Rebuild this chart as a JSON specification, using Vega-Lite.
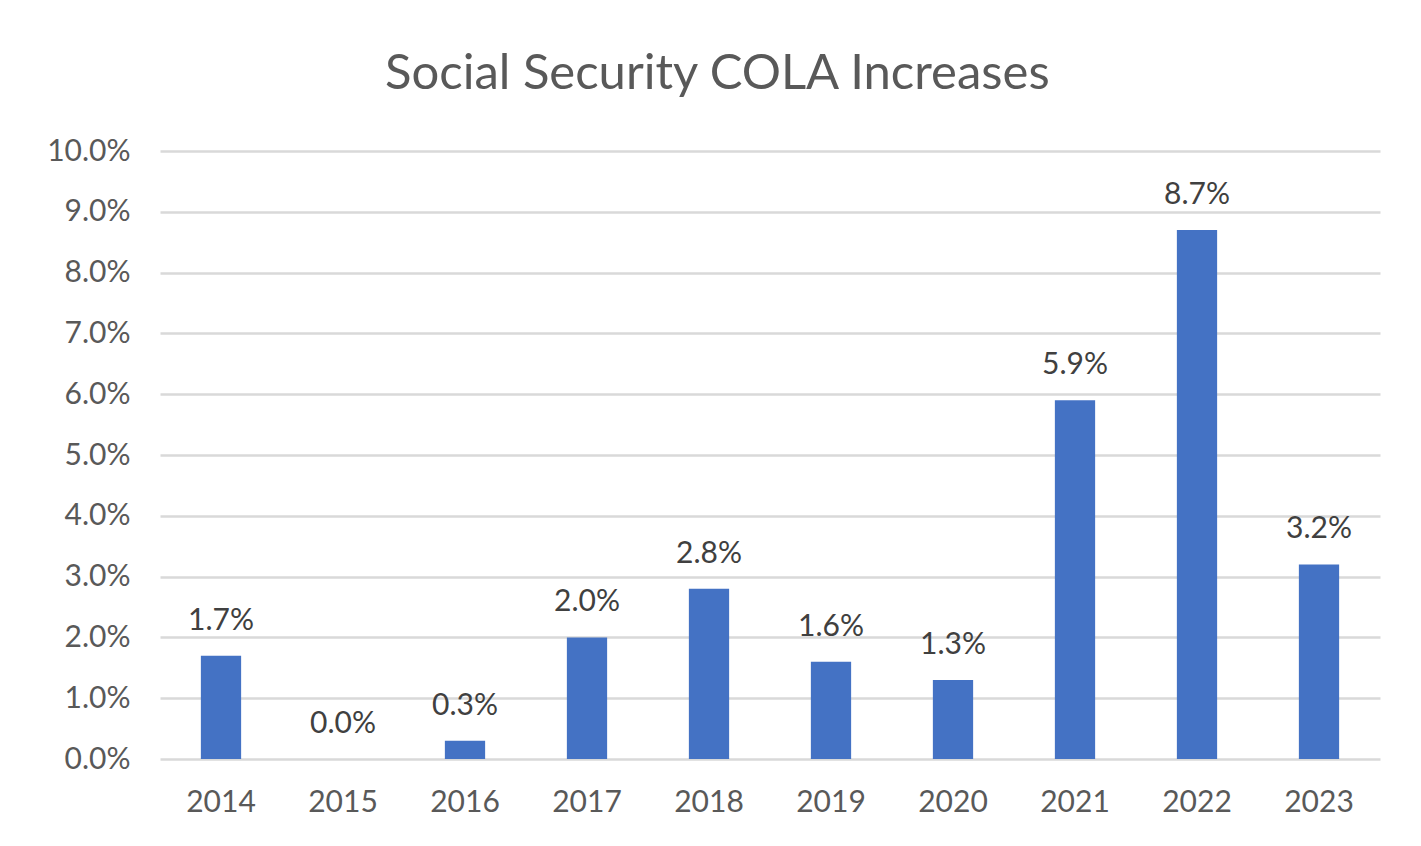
{
  "$schema": "https://vega.github.io/schema/vega-lite/v6.json",
  "width": 1220,
  "height": 608,
  "autosize": {"type": "none"},
  "padding": {"left": 160, "top": 151, "right": 41, "bottom": 87},
  "background": "white",
  "title": {
    "text": "Social Security COLA Increases",
    "font": "Lato",
    "fontSize": 49,
    "fontWeight": "normal",
    "color": "#595959",
    "anchor": "middle",
    "frame": "bounds",
    "baseline": "alphabetic",
    "offset": -2,
    "dx": 4
  },
  "data": {
    "values": [
      {"year": "2014", "cola": 0.017},
      {"year": "2015", "cola": 0.0},
      {"year": "2016", "cola": 0.003},
      {"year": "2017", "cola": 0.02},
      {"year": "2018", "cola": 0.028},
      {"year": "2019", "cola": 0.016},
      {"year": "2020", "cola": 0.013},
      {"year": "2021", "cola": 0.059},
      {"year": "2022", "cola": 0.087},
      {"year": "2023", "cola": 0.032}
    ]
  },
  "encoding": {
    "x": {
      "field": "year",
      "type": "ordinal",
      "scale": {"paddingInner": 0.67, "paddingOuter": 0.335},
      "axis": {
        "title": null,
        "labelAngle": 0,
        "labelFont": "Lato",
        "labelFontSize": 30,
        "labelColor": "#595959",
        "labelPadding": 28,
        "ticks": false,
        "domain": false,
        "grid": false
      }
    },
    "y": {
      "field": "cola",
      "type": "quantitative",
      "scale": {"domain": [0, 0.1], "nice": false},
      "axis": {
        "title": null,
        "format": ".1%",
        "values": [0, 0.01, 0.02, 0.03, 0.04, 0.05, 0.06, 0.07, 0.08, 0.09, 0.1],
        "labelFont": "Lato",
        "labelFontSize": 30,
        "labelColor": "#595959",
        "labelPadding": 30,
        "ticks": false,
        "domain": false,
        "grid": true,
        "gridColor": "#D9D9D9",
        "gridWidth": 2.5
      }
    }
  },
  "layer": [
    {"mark": {"type": "bar", "color": "#4472C4"}},
    {
      "mark": {
        "type": "text",
        "font": "Lato",
        "fontSize": 30,
        "color": "#404040",
        "baseline": "bottom",
        "dy": -20
      },
      "encoding": {
        "text": {"field": "cola", "type": "quantitative", "format": ".1%"}
      }
    }
  ],
  "config": {"view": {"stroke": null}}
}
